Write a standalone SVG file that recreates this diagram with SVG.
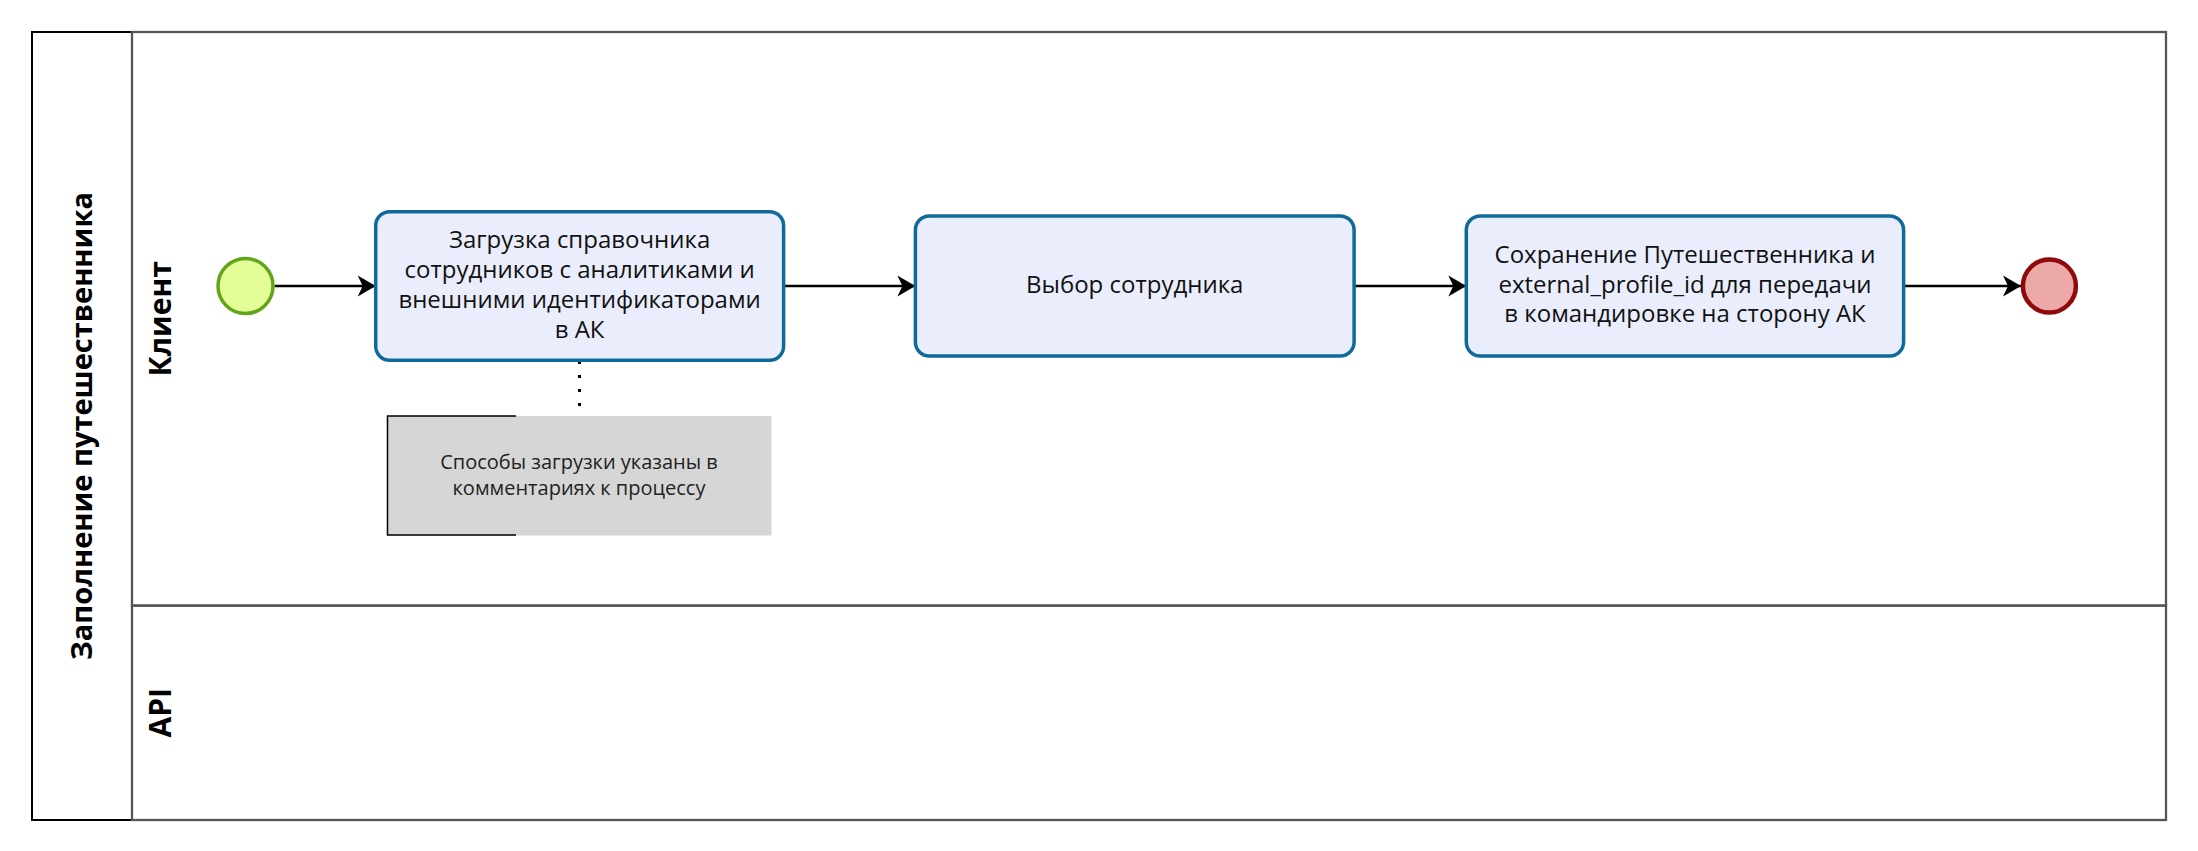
<svg xmlns="http://www.w3.org/2000/svg" width="2198" height="851" viewBox="0 0 2198 851">
<style>
.pool{fill:#fff;stroke:#000;stroke-width:2}
.lane{fill:none;stroke:#555;stroke-width:2.3}
.hdr{font-family:"Open Sans","Noto Sans",sans-serif;font-weight:bold;fill:#000;text-anchor:middle}
.task{fill:#eaeefc;stroke:#0f6a9b;stroke-width:3.5}
.tt{font-family:"Open Sans","Noto Sans",sans-serif;font-size:24px;fill:#111;text-anchor:middle}
.at{font-family:"Open Sans","Noto Sans",sans-serif;font-size:20px;fill:#222;text-anchor:middle}
.flow{fill:none;stroke:#000;stroke-width:2.5;marker-end:url(#arr)}
</style>
<defs>
<marker id="arr" markerUnits="userSpaceOnUse" markerWidth="24" markerHeight="24" refX="20" refY="12" orient="auto" viewBox="0 0 24 24">
<path d="M20,12 L2,1.5 L7,12 L2,22.5 Z" fill="#000"/>
</marker>
</defs>
<rect width="2198" height="851" fill="#fff"/>
<g id="pool">
<rect class="pool" x="32" y="32" width="2134" height="788"/>
<text class="hdr" font-size="29" transform="translate(92,426) rotate(-90)">Заполнение путешественника</text>
</g>
<g id="lane-client">
<rect class="lane" x="132" y="32" width="2034" height="573.6"/>
<text class="hdr" font-size="30" transform="translate(171,318.8) rotate(-90)">Клиент</text>
</g>
<g id="lane-api">
<rect class="lane" x="132" y="605.6" width="2034" height="214.4"/>
<text class="hdr" font-size="30" transform="translate(171,712.8) rotate(-90)">API</text>
</g>
<g id="connectors">
<line class="flow" x1="274.5" y1="286" x2="375.7" y2="286"/>
<line class="flow" x1="783.6" y1="286" x2="915.4" y2="286"/>
<line class="flow" x1="1354.1" y1="286" x2="1466.3" y2="286"/>
<line class="flow" x1="1903.6" y1="286" x2="2021" y2="286"/>
<line x1="579.5" y1="361" x2="579.5" y2="406" stroke="#000" stroke-width="3" stroke-dasharray="3,11"/>
</g>
<g id="start">
<circle cx="245.5" cy="286" r="27.5" fill="#e3fd97" stroke="#62a41a" stroke-width="3.5"/>
</g>
<g id="task1">
<rect class="task" x="375.7" y="211.7" width="407.9" height="148.6" rx="14"/>
<text class="tt" x="579.6" y="248">Загрузка справочника</text>
<text class="tt" x="579.6" y="278">сотрудников с аналитиками и</text>
<text class="tt" x="579.6" y="308">внешними идентификаторами</text>
<text class="tt" x="579.6" y="338">в АК</text>
</g>
<g id="task2">
<rect class="task" x="915.4" y="215.9" width="438.7" height="140.1" rx="14"/>
<text class="tt" x="1134.7" y="293">Выбор сотрудника</text>
</g>
<g id="task3">
<rect class="task" x="1466.3" y="215.9" width="437.3" height="140.1" rx="14"/>
<text class="tt" x="1685" y="263">Сохранение Путешественника и</text>
<text class="tt" x="1685" y="292.5">external_profile_id для передачи</text>
<text class="tt" x="1685" y="322">в командировке на сторону АК</text>
</g>
<g id="end">
<circle cx="2049.4" cy="286" r="26.5" fill="#eda8a8" stroke="#8f0a0a" stroke-width="4.5"/>
</g>
<g id="annotation">
<rect x="387" y="416" width="384.5" height="119.5" fill="#d6d6d6"/>
<path d="M516,416 H387.5 V535 H516" fill="none" stroke="#000" stroke-width="1.5"/>
<text class="at" x="579" y="469">Способы загрузки указаны в</text>
<text class="at" x="579" y="495">комментариях к процессу</text>
</g>
</svg>
